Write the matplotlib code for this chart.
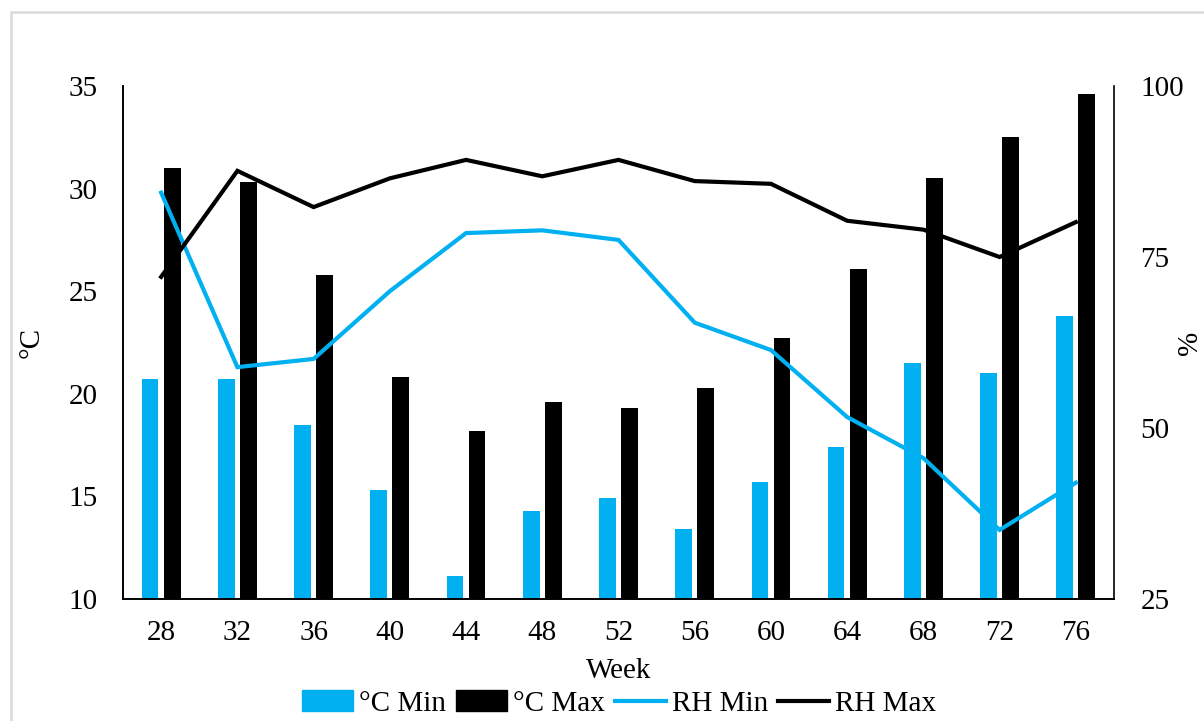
import numpy as np
import matplotlib.pyplot as plt
from matplotlib.patches import Patch, Rectangle
from matplotlib.lines import Line2D

weeks = [28, 32, 36, 40, 44, 48, 52, 56, 60, 64, 68, 72, 76]
temp_min = [20.7, 20.7, 18.5, 15.3, 11.1, 14.3, 14.9, 13.4, 15.7, 17.4, 21.5, 21.0, 23.8]
temp_max = [31.0, 30.3, 25.8, 20.8, 18.2, 19.6, 19.3, 20.3, 22.7, 26.1, 30.5, 32.5, 34.6]
rh_min = [84.4, 58.9, 60.1, 70.0, 78.5, 78.9, 77.5, 65.4, 61.4, 51.6, 45.6, 35.1, 42.0]
rh_max = [72.1, 87.6, 82.3, 86.5, 89.2, 86.8, 89.2, 86.1, 85.7, 80.3, 79.0, 75.0, 80.1]

blue = '#00B0F0'
plt.rcParams['font.family'] = ['Liberation Serif', 'DejaVu Serif']
plt.rcParams['font.size'] = 21

fig = plt.figure(figsize=(12.04, 7.21), dpi=100)
ax = fig.add_axes([0.1022, 0.1692, 0.823, 0.7115])
ax2 = ax.twinx()

x = np.arange(len(weeks))
w = 0.22
ax.bar(x - 0.145, temp_min, width=w, color=blue, zorder=2)
ax.bar(x + 0.145, temp_max, width=w, color='black', zorder=2)
ax2.plot(x, rh_min, color=blue, lw=3, solid_joinstyle='miter')
ax2.plot(x, rh_max, color='black', lw=3, solid_joinstyle='miter')

ax.set_xlim(-0.5, len(weeks) - 0.5)
ax.set_ylim(10, 35)
ax.set_yticks([10, 15, 20, 25, 30, 35])
ax2.set_ylim(25, 100)
ax2.set_yticks([25, 50, 75, 100])
ax.set_xticks(x)
ax.set_xticklabels([str(v) for v in weeks])

for a in (ax, ax2):
    a.spines['top'].set_visible(False)
    for s in ('left', 'right', 'bottom'):
        a.spines[s].set_linewidth(1.2)
ax.spines['right'].set_visible(False)
ax.tick_params(axis='x', length=0, pad=15)
ax.tick_params(axis='y', length=0, pad=18)
ax2.tick_params(axis='y', length=0, pad=19)

ax.set_xlabel('Week', labelpad=9)
ax.set_ylabel('°C', va='center')
ax.yaxis.set_label_coords(-0.092, 0.5)
ax2.set_ylabel('%', va='center')
ax2.yaxis.set_label_coords(1.077, 0.5)

handles = [Patch(color=blue), Patch(color='black'),
           Line2D([], [], color=blue, lw=3), Line2D([], [], color='black', lw=3)]
labels = ['°C Min', '°C Max', 'RH Min', 'RH Max']
fig.legend(handles, labels, loc='center', bbox_to_anchor=(0.514, 0.024), ncol=4,
           frameon=False, handlelength=1.75, handleheight=0.7, handletextpad=0.2,
           columnspacing=0.35, borderpad=0)

# light frame around the chart
fig.patches.append(Rectangle((11 / 1204, -0.1), 1.2, 1 - 12 / 721 + 0.1,
                             transform=fig.transFigure, fill=False,
                             edgecolor='#d9d9d9', lw=1.8))

fig.savefig('out.png', dpi=100)
